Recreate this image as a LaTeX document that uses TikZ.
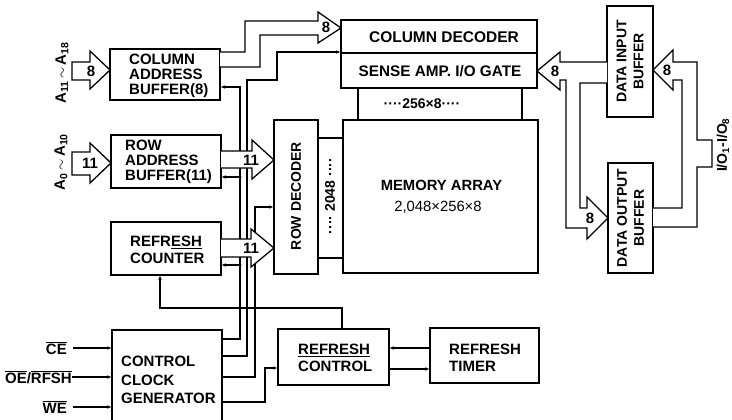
\documentclass[tikz,border=0pt]{standalone}
\usepackage{fontspec}
\setmainfont{Liberation Sans}
\usetikzlibrary{arrows.meta}
\newcommand\myfs[2]{\fontsize{#1}{#2}\selectfont\bfseries}
\begin{document}
\begin{tikzpicture}[x=1pt,y=-1pt,
  box/.style={draw, line width=2.4pt, inner sep=0pt, outer sep=0pt},
  txt/.style={font=\myfs{15}{15.3}, inner sep=0pt},
  wire/.style={line width=1.3pt},
  sarrow/.style={wire, -{Latex[length=5pt,width=3.6pt]}},
  bus/.style={line width=1.3pt, fill=white, line join=miter},
  jdot/.style={circle, fill, inner sep=0pt, minimum size=3.2pt},
]
\useasboundingbox (0,0) rectangle (732,420);
\clip (0,0) rectangle (732,420);

% ---------- boxes ----------
\node[box, minimum width=110pt, minimum height=51pt] (cab) at (165,74.5) {};
\node[box, minimum width=110pt, minimum height=53pt] (rab) at (166,161.5) {};
\node[box, minimum width=110pt, minimum height=53pt] (rcnt) at (166,248.5) {};
\node[box, minimum width=110pt, minimum height=110pt] (ccg) at (167,385) {};
\node[box, minimum width=111pt, minimum height=56pt] (rctl) at (333.5,357) {};
\node[box, minimum width=109pt, minimum height=55pt] (rtim) at (484.5,355.5) {};
\node[box, minimum width=44pt, minimum height=154pt] (rdec) at (296,197) {};
\node[box, minimum width=195pt, minimum height=153pt] (mem) at (440.5,196.5) {};
\node[box, minimum width=196pt, minimum height=33pt] (cdec) at (439,36.5) {};
\node[box, minimum width=196pt, minimum height=35pt] (sense) at (439,70.5) {};
\node[box, minimum width=46pt, minimum height=111pt] (din) at (630,61.5) {};
\node[box, minimum width=45pt, minimum height=110pt] (dout) at (630.5,218) {};

% ---------- box texts ----------
\node[txt, anchor=west, align=left] (cabt) at (129,76) {COLUMN\\ADDRESS\\BUFFER(8)};
\node[txt, anchor=west, align=left] (rabt) at (125,162) {ROW\\ADDRESS\\BUFFER(11)};
\node[txt, anchor=west, align=left, font=\myfs{15}{17}] (rcntt) at (130,249.5) {REFR\underline{ESH}\\COUNTER};
\node[txt, anchor=west, align=left, font=\myfs{15}{18.5}] (ccgt) at (121,380) {CONTROL\\CLOCK\\GENERATOR};
\node[txt, anchor=west, align=left, font=\myfs{15}{17}] (rctlt) at (298,357.5) {\underline{REFRESH}\\CONTROL};
\node[txt, anchor=west, align=left, font=\myfs{15}{17}] (rtimt) at (449,357.5) {REFRESH\\TIMER};
\node[txt, rotate=90, font=\myfs{14}{15}] (rdect) at (296,196) {ROW DECODER};
\node[txt, font=\myfs{14.8}{15}] (memt1) at (441.5,185) {MEMORY ARRAY};
\node[txt, font=\fontsize{14.8}{15}\selectfont] (memt2) at (438,207) {2,048×256×8};
\node[txt, font=\myfs{15.5}{15}] (cdect) at (444,37) {COLUMN DECODER};
\node[txt, font=\myfs{15.3}{15}] (senset) at (440,71) {SENSE AMP. I/O GATE};
\node[txt, rotate=90, align=center, font=\myfs{14}{17}] (dint) at (630,61.5) {DATA INPUT\\BUFFER};
\node[txt, rotate=90, align=center, font=\myfs{14}{17}] (doutt) at (630.5,218) {DATA OUTPUT\\BUFFER};
\node[txt, font=\myfs{14}{15}] (colw) at (422,104) {····256×8····};
\node[txt, rotate=90, font=\myfs{14}{15}] (roww) at (330,196) {···· 2048 ····};

% ---------- strip and gate lines ----------
\draw[line width=1.6pt] (rdec.east |- 0,138) -- (mem.west |- 0,138);
\draw[line width=1.6pt] (rdec.east |- 0,258) -- (mem.west |- 0,258);
\draw[line width=2pt] (sense.south -| 358,0) -- (mem.north -| 358,0);
\draw[line width=2pt] (sense.south -| 522,0) -- (mem.north -| 522,0);

% ---------- external inputs ----------
\node[txt, rotate=90] (alab1) at (62,73) {A\textsubscript{11}\,$\sim$\,A\textsubscript{18}};
\node[txt, rotate=90] (alab2) at (61,162) {A\textsubscript{0}\,$\sim$\,A\textsubscript{10}};
\draw[bus] (72,62) -- (90,62) -- (90,51) -- (cab.west |- 0,70) -- (90,89) -- (90,80) -- (72,80) -- cycle;
\node[txt] (a1n) at (91,71) {8};
\draw[bus] (72,152) -- (90,152) -- (90,143) -- (rab.west |- 0,163) -- (90,183) -- (90,175) -- (72,175) -- cycle;
\node[txt] (a2n) at (90,163) {11};

\node[txt, anchor=east] (ce) at (67,348) {$\overline{\hbox{CE}}$};
\node[txt, anchor=east] (oe) at (72,377) {$\overline{\hbox{OE}}$/$\overline{\hbox{RFSH}}$};
\node[txt, anchor=east] (we) at (67,407) {$\overline{\hbox{WE}}$};
\draw[sarrow] (73,348) -- (ccg.west |- ce.east);
\draw[sarrow] (oe.east) -- (ccg.west |- oe.east);
\draw[sarrow] (73,407) -- (ccg.west |- we.east);

% ---------- control lines ----------
\draw[sarrow] (ccg.east |- 0,339) -| (240,87) -- (cab.east |- 0,87);
\draw[sarrow] (240,177) -- (rab.east |- 0,177);
\draw[sarrow] (240,265) -- (rcnt.east |- 0,265);
\node[jdot] (j1) at (240,177) {};
\node[jdot] (j2) at (240,265) {};
\draw[sarrow] (ccg.east |- 0,356) -| (247,80) -| (277,52) -- (cdec.west |- 0,52);
\draw[sarrow] (ccg.east |- 0,377) -| (255,207) -- (rdec.west |- 0,207);
\draw[sarrow] (ccg.east |- 0,402) -| (265,368) -- (rctl.west |- 0,368);
\draw[sarrow] (rctl.north -| 342,0) |- (160,308) -- (rcnt.south -| 160,0);
\draw[sarrow] (rtim.west |- 0,348) -- (rctl.east |- 0,348);
\draw[sarrow] (rctl.east |- 0,369) -- (rtim.west |- 0,369);

% ---------- buses ----------
\draw[bus] (cab.east |- 0,52) -- (245,52) -- (245,21) -- (318,21) -- (318,12) -- (cdec.west |- 0,28) -- (318,43) -- (318,35) -- (260,35) -- (260,67) -- (cab.east |- 0,67);
\node[txt] (cbn) at (326,27) {8};
\draw[bus] (rab.east |- 0,151) -- (252,151) -- (252,140) -- (rdec.west |- 0,160) -- (252,179) -- (252,168) -- (rab.east |- 0,168);
\node[txt] (rbn) at (251,160) {11};
\draw[bus] (rcnt.east |- 0,239) -- (251,239) -- (251,229) -- (rdec.west |- 0,248) -- (251,267) -- (251,257) -- (rcnt.east |- 0,257);
\node[txt] (cnn) at (251,248) {11};

\draw[bus] (din.west |- 0,62) -- (560,62) -- (560,52) -- (sense.east |- 0,71) -- (560,90) -- (560,80) -- (566,80) -- (566,228) -- (587,228) -- (587,239) -- (dout.west |- 0,218) -- (587,197) -- (587,208) -- (580,208) -- (580,83) -- (din.west |- 0,83);
\node[txt] (sbn) at (555,71) {8};
\node[txt] (dbn) at (590,218) {8};

\draw[bus] (dout.east |- 0,208) -- (682,208) -- (682,80) -- (673,80) -- (673,90) -- (din.east |- 0,70) -- (673,50) -- (673,62) -- (697,62) -- (697,140) -- (712,140) -- (712,167) -- (697,167) -- (697,227) -- (dout.east |- 0,227);
\node[txt] (ion) at (667,70) {8};
\node[txt, rotate=90, font=\myfs{14}{15}] (iolab) at (723,145) {I/O\textsubscript{1}-I/O\textsubscript{8}};
\end{tikzpicture}
\end{document}
